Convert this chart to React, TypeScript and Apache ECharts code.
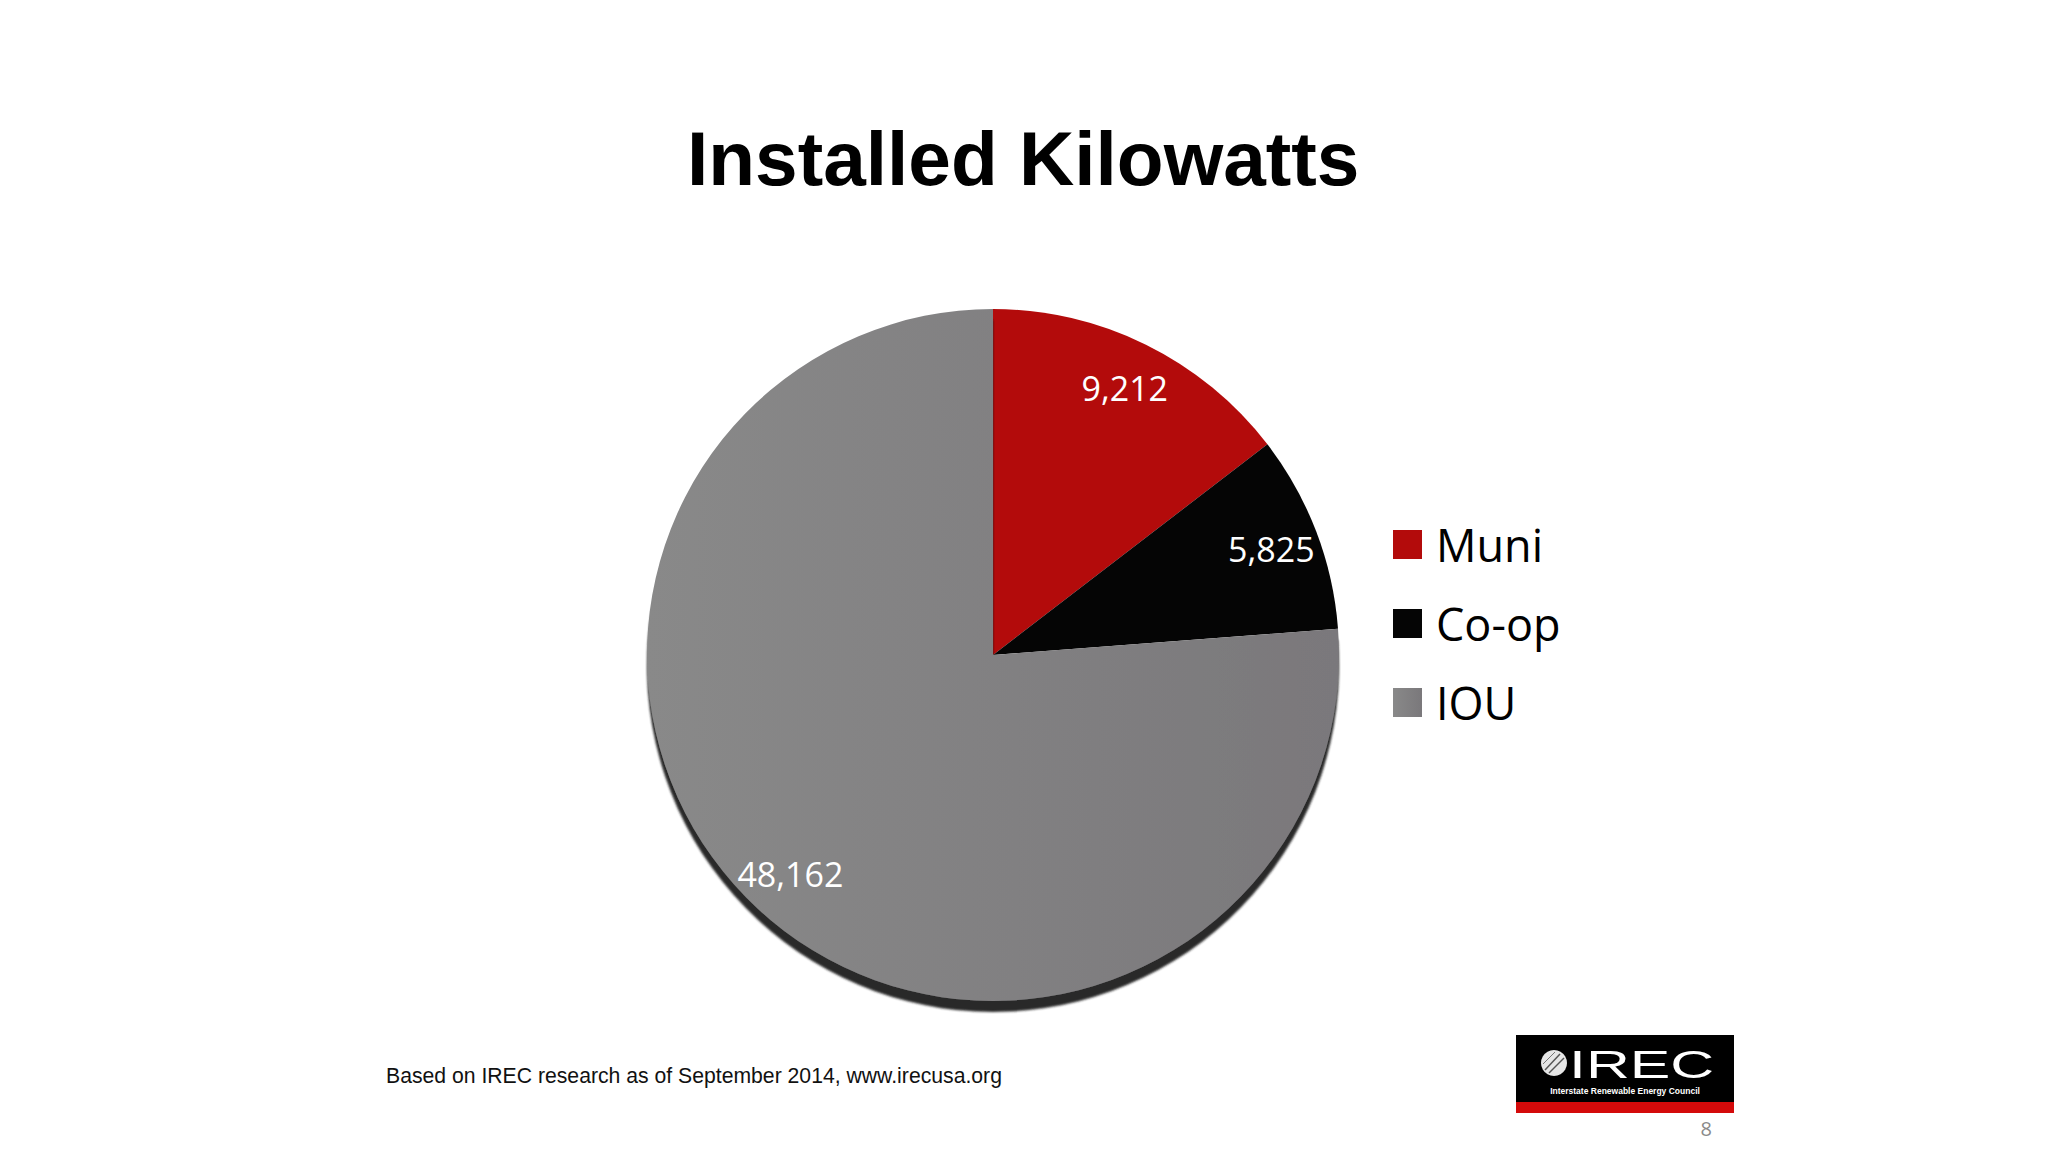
import React, { useEffect, useRef } from "react";
import * as echarts from "echarts";

const categories = ["Muni", "Co-op", "IOU"];
const values = [9212, 5825, 48162];
const sliceColors: any[] = [
  "#b30b0b",
  "#050505",
  {
    type: "linear",
    x: 0,
    y: 0,
    x2: 1,
    y2: 0,
    colorStops: [
      { offset: 0, color: "#898989" },
      { offset: 1, color: "#7a787b" },
    ],
  },
];
const titleText = "Installed Kilowatts";
const footnoteText = "Based on IREC research as of September 2014, www.irecusa.org";
const pageNumber = "8";

const fmt = (v: number) => v.toLocaleString("en-US");

export default function App() {
  const ref = useRef<HTMLDivElement>(null);
  useEffect(() => {
    if (!ref.current) return;
    const chart = echarts.init(ref.current, undefined, { renderer: "svg" });
    const mainData = categories.map((name, i) => ({
      name,
      value: values[i],
      itemStyle:
        i === 2
          ? {
              color: sliceColors[i],
              shadowColor: "rgba(30,30,30,0.95)",
              shadowBlur: 2,
              shadowOffsetY: 11,
            }
          : { color: sliceColors[i] },
    }));
    const labelData = categories.map((name, i) => ({ name, value: values[i] }));
    chart.setOption({
      animation: false,
      backgroundColor: "#ffffff",
      title: [
        {
          text: titleText,
          left: 687,
          top: 120,
          padding: 0,
          textStyle: {
            fontFamily: "Liberation Sans, Arial, sans-serif",
            fontWeight: "bold",
            fontSize: 76.6,
            color: "#000000",
          },
        },
        {
          text: footnoteText,
          left: 386,
          top: 1065,
          padding: 0,
          textStyle: {
            fontFamily: "Liberation Sans, Arial, sans-serif",
            fontWeight: "normal",
            fontSize: 21.2,
            color: "#111111",
          },
        },
      ],
      legend: {
        orient: "vertical",
        left: 1393,
        top: 522,
        padding: 0,
        data: categories,
        icon: "rect",
        itemWidth: 29,
        itemHeight: 29,
        itemGap: 34,
        selectedMode: false,
        textStyle: {
          fontFamily: "Open Sans, Noto Sans, sans-serif",
          fontSize: 45,
          lineHeight: 44,
          color: "#000000",
          padding: [0, 0, 0, 9],
        },
      },
      series: [
        {
          type: "pie",
          center: [993, 655],
          radius: 346,
          startAngle: 90,
          clockwise: true,
          silent: true,
          label: { show: false },
          labelLine: { show: false },
          data: mainData,
        },
        {
          type: "pie",
          center: [993, 655],
          radius: [0, 590],
          startAngle: 90,
          clockwise: true,
          silent: true,
          itemStyle: { color: "rgba(0,0,0,0)" },
          label: {
            show: true,
            position: "inside",
            formatter: (p: any) => fmt(p.value),
            fontFamily: "Open Sans, Noto Sans, sans-serif",
            fontSize: 34,
            color: "#ffffff",
          },
          labelLine: { show: false },
          data: labelData,
        },
      ],
      graphic: [
        {
          type: "rect",
          shape: { x: 1516, y: 1035, width: 218, height: 68 },
          style: { fill: "#000000" },
        },
        {
          type: "rect",
          shape: { x: 1516, y: 1102, width: 218, height: 11 },
          style: { fill: "#d40a0a" },
        },
        {
          type: "circle",
          shape: { cx: 1554, cy: 1063, r: 13 },
          style: { fill: "#e6e6e6" },
        },
        {
          type: "line",
          shape: { x1: 1545, y1: 1070, x2: 1560, y2: 1054 },
          style: { stroke: "#555555", lineWidth: 1.5 },
        },
        {
          type: "line",
          shape: { x1: 1549, y1: 1073, x2: 1564, y2: 1058 },
          style: { stroke: "#555555", lineWidth: 1.5 },
        },
        {
          type: "line",
          shape: { x1: 1543, y1: 1064, x2: 1555, y2: 1052 },
          style: { stroke: "#777777", lineWidth: 1 },
        },
        {
          type: "text",
          x: 1569,
          y: 1046,
          scaleX: 1.6,
          style: {
            text: "IREC",
            fill: "#ffffff",
            fontFamily: "Liberation Sans, Arial, sans-serif",
            fontSize: 38,
            fontWeight: "normal",
          },
        },
        {
          type: "text",
          x: 1625,
          y: 1091,
          style: {
            text: "Interstate Renewable Energy Council",
            fill: "#ffffff",
            fontFamily: "Liberation Sans, Arial, sans-serif",
            fontSize: 8.5,
            fontWeight: "bold",
            textAlign: "center",
            textVerticalAlign: "middle",
          },
        },
        {
          type: "text",
          x: 1712,
          y: 1128,
          style: {
            text: pageNumber,
            fill: "#8a8a8a",
            fontFamily: "Open Sans, Noto Sans, sans-serif",
            fontSize: 20,
            textAlign: "right",
            textVerticalAlign: "middle",
          },
        },
      ],
    });
    return () => chart.dispose();
  }, []);
  return (
    <div
      ref={ref}
      style={{ position: "absolute", left: 0, top: 0, width: 2048, height: 1152 }}
    />
  );
}
